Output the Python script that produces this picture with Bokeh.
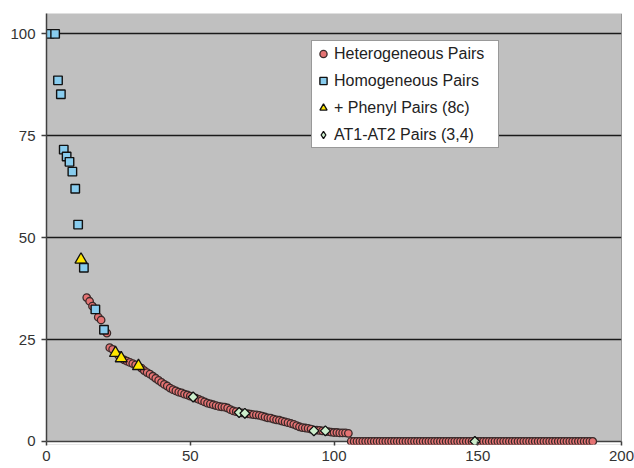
import math
from bokeh.plotting import figure
from bokeh.models import Range1d, FixedTicker, BoxAnnotation, Span
from bokeh.embed import file_html
from bokeh.resources import INLINE

# ---- data (rank, value) ----
homo_x = [1, 3, 4, 5, 6, 7, 8, 9, 10, 11, 13, 17, 20]
homo_y = [100, 100, 88.6, 85.2, 71.6, 69.9, 68.6, 66.2, 62.0, 53.2, 42.6, 32.4, 27.4]

phenyl_x = [12, 24, 26, 32]
phenyl_y = [44.6, 21.7, 20.4, 18.5]

at_x = [51, 67, 69, 93, 97, 149]
at_y = [10.9, 7.1, 6.9, 2.6, 2.6, 0.0]

hetero_x = [14, 15, 16, 18, 19, 21, 22, 23, 25, 27, 28, 29, 30, 31,
            33, 34, 35, 36, 37, 38, 39, 40, 41, 42, 43, 44, 45, 46, 47, 48, 49, 50,
            52, 53, 54, 55, 56, 57, 58, 59, 60, 61, 62, 63, 64, 65, 66,
            68, 70, 71, 72, 73, 74, 75, 76, 77, 78, 79, 80, 81, 82, 83, 84, 85,
            86, 87, 88, 89, 90, 91, 92, 94, 95, 96, 98, 99, 100, 101, 102, 103, 104, 105,
            106, 107, 108, 109, 110, 111, 112, 113, 114, 115, 116, 117, 118, 119, 120,
            121, 122, 123, 124, 125, 126, 127, 128, 129, 130, 131, 132, 133, 134, 135,
            136, 137, 138, 139, 140, 141, 142, 143, 144, 145, 146, 147, 148,
            150, 151, 152, 153, 154, 155, 156, 157, 158, 159, 160, 161, 162, 163, 164,
            165, 166, 167, 168, 169, 170, 171, 172, 173, 174, 175, 176, 177, 178, 179,
            180, 181, 182, 183, 184, 185, 186, 187, 188, 189, 190]
hetero_y = [35.3, 34.4, 33.2, 30.5, 29.8, 26.6, 23.0, 22.6, 21.2, 20.0, 19.7, 19.4, 19.1, 18.8,
            18.0, 17.4, 16.9, 16.5, 16.0, 15.5, 15.0, 14.5, 14.0, 13.6, 13.1, 12.7, 12.4, 12.1, 11.9, 11.6, 11.4, 11.1,
            10.6, 10.3, 10.0, 9.7, 9.4, 9.2, 9.0, 8.8, 8.6, 8.5, 8.4, 8.2, 7.8, 7.5, 7.3,
            7.0, 6.8, 6.7, 6.6, 6.5, 6.4, 6.2, 6.0, 5.8, 5.7, 5.5, 5.3, 5.2, 5.0, 4.8, 4.6, 4.4,
            4.2, 3.9, 3.6, 3.4, 3.3, 3.2, 3.0, 2.8, 2.7, 2.6, 2.4, 2.3, 2.2, 2.2, 2.1, 2.1, 2.1, 2.0,
            0, 0, 0, 0, 0, 0, 0, 0, 0, 0, 0, 0, 0, 0, 0,
            0, 0, 0, 0, 0, 0, 0, 0, 0, 0, 0, 0, 0, 0, 0,
            0, 0, 0, 0, 0, 0, 0, 0, 0, 0, 0, 0, 0,
            0, 0, 0, 0, 0, 0, 0, 0, 0, 0, 0, 0, 0, 0, 0,
            0, 0, 0, 0, 0, 0, 0, 0, 0, 0, 0, 0, 0, 0, 0,
            0, 0, 0, 0, 0, 0, 0, 0, 0, 0, 0]

x_ticks = [0, 50, 100, 150, 200]
y_ticks = [0, 25, 50, 75, 100]

FONT = "Liberation Sans"

p = figure(width=634, height=468, output_backend="svg", toolbar_location=None,
           x_range=Range1d(0, 200), y_range=Range1d(-0.75, 105),
           min_border_left=46, min_border_right=13, min_border_top=13, min_border_bottom=24)
p.background_fill_color = "#C0C0C0"
p.border_fill_color = "white"
p.outline_line_color = None

p.xgrid.visible = False
p.ygrid.ticker = FixedTicker(ticks=[25, 50, 75, 100])
p.ygrid.grid_line_color = "#1a1a1a"
p.ygrid.grid_line_width = 1.5

# white strip below y = 0 so markers at zero are not clipped visually
p.add_layout(BoxAnnotation(top=0, fill_color="white", fill_alpha=1.0,
                           line_alpha=0, level="underlay"))
p.add_layout(Span(location=0, dimension="width", line_color="#404040",
                  line_width=1.5, level="underlay"))
p.add_layout(Span(location=200, dimension="height", line_color="#505050",
                  line_width=1, level="underlay"))

# axes
p.xaxis.ticker = FixedTicker(ticks=x_ticks)
p.yaxis.ticker = FixedTicker(ticks=y_ticks)
p.xaxis.axis_line_alpha = 0
p.xaxis.major_tick_in = 3
p.xaxis.major_tick_out = 1
p.xaxis.major_tick_line_color = "#404040"
p.xaxis.major_tick_line_width = 1.5
p.xaxis.minor_tick_line_color = None
p.xaxis.major_label_standoff = 5
p.yaxis.bounds = (0, 105)
p.yaxis.axis_line_color = "#404040"
p.yaxis.axis_line_width = 1.5
p.yaxis.major_tick_in = 0
p.yaxis.major_tick_out = 5
p.yaxis.major_tick_line_color = "#404040"
p.yaxis.major_tick_line_width = 1.5
p.yaxis.minor_tick_line_color = None
p.yaxis.major_label_standoff = 6
for ax in (p.xaxis, p.yaxis):
    ax.major_label_text_font = FONT
    ax.major_label_text_font_size = "15px"
    ax.major_label_text_color = "#333333"

# series
p.scatter(hetero_x, hetero_y, marker="circle", size=7.5, fill_color="#E57373",
          line_color="#3a2a2a", line_width=1.3, legend_label="Heterogeneous Pairs")
p.scatter(phenyl_x, phenyl_y, marker="triangle", size=12, fill_color="#FFE600",
          line_color="#111111", line_width=1.3, legend_label="+ Phenyl Pairs (8c)")
p.scatter(homo_x, homo_y, marker="square", size=8.5, fill_color="#88CCEE",
          line_color="#111111", line_width=1.4, legend_label="Homogeneous Pairs")
# diamond marker (used for the legend swatch), covered by rotated squares below
p.scatter(at_x, at_y, marker="diamond", size=9, fill_color="#CCEECC",
          line_color="#111111", line_width=1.3, legend_label="AT1-AT2 Pairs (3,4)")
p.scatter(at_x, at_y, marker="square", angle=math.pi / 4, size=7, fill_color="#CCEECC",
          line_color="#111111", line_width=1.3)

leg = p.legend[0]
items = leg.items
order = ["Heterogeneous Pairs", "Homogeneous Pairs", "+ Phenyl Pairs (8c)", "AT1-AT2 Pairs (3,4)"]
leg.items = sorted(items, key=lambda it: order.index(it.label.value))
leg.location = (265, 296)
leg.label_text_font = FONT
leg.label_text_font_size = "16px"
leg.label_text_color = "#222222"
leg.border_line_color = "#333333"
leg.border_line_width = 1
leg.background_fill_color = "white"
leg.background_fill_alpha = 1.0
leg.padding = 2
leg.spacing = 6
leg.label_height = 21
leg.glyph_height = 21
leg.glyph_width = 18
leg.label_standoff = 2
leg.label_width = 162
leg.margin = 0

open("out.html", "w").write(file_html(p, INLINE))
